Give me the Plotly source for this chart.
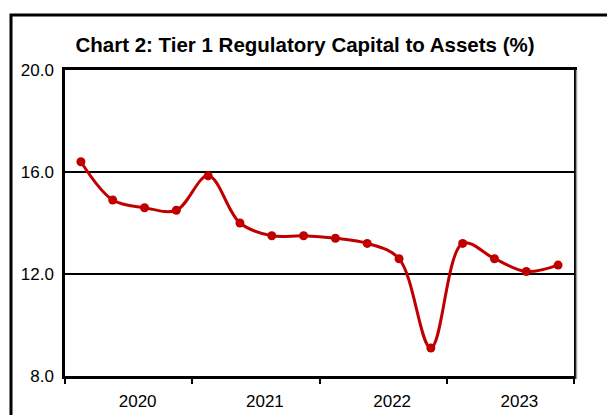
import plotly.graph_objects as go

# quarterly values, Q1 2020 .. Q4 2023
quarters = ["2020Q1", "2020Q2", "2020Q3", "2020Q4",
            "2021Q1", "2021Q2", "2021Q3", "2021Q4",
            "2022Q1", "2022Q2", "2022Q3", "2022Q4",
            "2023Q1", "2023Q2", "2023Q3", "2023Q4"]
tier1_ratio = [16.4, 14.9, 14.6, 14.5, 15.85, 14.0, 13.5, 13.5,
               13.4, 13.2, 12.6, 9.1, 13.2, 12.6, 12.1, 12.35]
years = ["2020", "2021", "2022", "2023"]
y_ticks = [8, 12, 16, 20]

x = list(range(len(quarters)))
year_mid = [4 * i + 1.5 for i in range(len(years))]
year_edges = [4 * i - 0.5 for i in range(len(years) + 1)]

red = "#C00000"
font = "Liberation Sans, Arial, sans-serif"

# the html body adds an 8px margin, so the figure is 8px smaller than the window
W, H = 607, 407
ml, mr, mt, mb = 57, 41, 62, 39
pw, ph = W - ml - mr, H - mt - mb

fig = go.Figure()
fig.add_trace(go.Scatter(
    x=x, y=tier1_ratio, mode="lines+markers",
    line=dict(color=red, width=3, shape="spline", smoothing=1),
    marker=dict(color=red, size=9),
    hovertext=quarters, showlegend=False,
))

fig.update_layout(
    width=W, height=H,
    margin=dict(l=ml, r=mr, t=mt, b=mb, autoexpand=False),
    paper_bgcolor="white", plot_bgcolor="white",
    font=dict(family=font, size=17, color="black"),
    title=dict(text="<b>Chart 2: Tier 1 Regulatory Capital to Assets (%)</b>",
               x=(297 - ml) / pw, xref="paper", xanchor="center",
               y=1 - 37 / H, yanchor="middle",
               font=dict(family=font, size=20.5, color="black")),
    xaxis=dict(
        range=[-0.5, 15.5], tickmode="array", tickvals=year_mid, ticktext=years,
        ticks="", ticklabelshift=9, ticklabelstandoff=8,
        showgrid=False, zeroline=False,
        showline=True, linecolor="black", linewidth=2.5, mirror=True,
        minor=dict(tickmode="array", tickvals=year_edges, ticks="outside",
                   ticklen=5, tickwidth=2, tickcolor="black", showgrid=False),
    ),
    yaxis=dict(
        range=[8, 20], tickmode="array", tickvals=y_ticks,
        ticktext=[f"{v:.1f}" for v in y_ticks],
        ticks="", ticklabelstandoff=5,
        showgrid=True, gridcolor="black", gridwidth=1.5, zeroline=False,
        showline=True, linecolor="black", linewidth=2.5, mirror=True,
    ),
)

# outer frame of the chart box (extends past right/bottom edges)
fig.add_shape(type="rect", xref="paper", yref="paper",
              x0=(3 - ml) / pw, x1=1.2, y0=-0.3, y1=(ph + mt - 7) / ph,
              line=dict(color="black", width=3), layer="below")
# faint shadow on the right of the plot border
fig.add_shape(type="line", xref="paper", yref="paper",
              x0=1 + 2.5 / pw, x1=1 + 2.5 / pw, y0=-0.01, y1=1,
              line=dict(color="#A0A0A0", width=1.5))

fig.write_html("out.html")
